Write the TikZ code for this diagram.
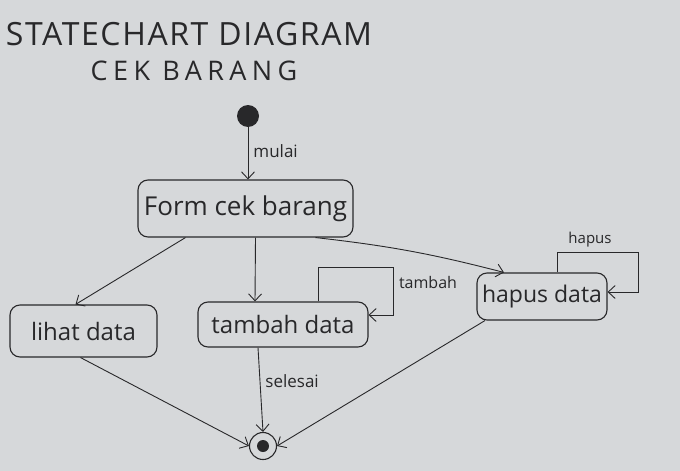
\documentclass[tikz,border=0pt]{standalone}
\usepackage{fontspec}
\setmainfont{Open Sans}
\usetikzlibrary{arrows.meta}
\definecolor{paper}{RGB}{214,216,218}
\definecolor{ink}{RGB}{40,40,42}
\tikzset{
  statebox/.style={draw=ink, line width=1.1pt, rounded corners=10pt, text=ink, inner sep=0pt},
  trans/.style={draw=ink, line width=0.9pt, -{Straight Barb[length=7pt,width=13pt]}},
  lbl/.style={text=ink, inner sep=0pt},
}
\begin{document}
\begin{tikzpicture}[x=1pt,y=-1pt]
\fill[paper] (0,0) rectangle (680,471);
\useasboundingbox (0,0) rectangle (680,471);
% titles
\node[lbl, font=\fontsize{32}{32}\selectfont\addfontfeature{LetterSpace=5}] (title) at (189,34) {STATECHART DIAGRAM};
\node[lbl, font=\fontsize{27}{27}\selectfont\addfontfeature{LetterSpace=20}] (subtitle) at (194,71) {CEK BARANG};
% initial
\node[circle, fill=ink, minimum size=22pt, inner sep=0pt] (initn) at (248,116) {};
% states
\node[statebox, minimum width=215pt, minimum height=57pt, font=\fontsize{26}{26}\selectfont] (form) at (245.5,208.5) {Form cek barang};
\node[statebox, minimum width=147pt, minimum height=52pt, font=\fontsize{24}{24}\selectfont] (lihat) at (83.5,331) {lihat data};
\node[statebox, minimum width=170pt, minimum height=45pt, font=\fontsize{24}{24}\selectfont] (tambah) at (283,324.5) {tambah data};
\node[statebox, minimum width=130pt, minimum height=47pt, font=\fontsize{23}{23}\selectfont] (hapus) at (542,296.5) {hapus data};
% final
\node[circle, draw=ink, fill=paper, line width=1.1pt, minimum size=27pt, inner sep=0pt] (final) at (263,446) {};
\fill[ink] (final.center) circle (6pt);
% transitions
\draw[trans] (initn) -- (form.north -| initn) node[lbl, pos=0.45, right=5pt, font=\fontsize{17}{17}\selectfont] (mulai) {mulai};
\draw[trans] ([xshift=-60pt]form.south) -- ([xshift=-8pt]lihat.north);
\draw[trans] ([xshift=10pt]form.south) -- ([xshift=-28pt]tambah.north);
\draw[trans] ([xshift=70pt]form.south) to[bend left=4] ([xshift=-38pt]hapus.north);
% self loops
\coordinate (tl1) at ([xshift=35pt]tambah.north);
\draw[trans] (tl1) |- (393,267) |- (tambah.east |- 0,315);
\node[lbl, font=\fontsize{16}{16}\selectfont] (tlab) at (428,282) {tambah};
\coordinate (hl1) at ([xshift=15pt]hapus.north);
\draw[trans] (hl1) |- (638,252) |- (hapus.east |- 0,292);
\node[lbl, font=\fontsize{15}{15}\selectfont] (hlab) at (590,240) {hapus};
% to final
\draw[trans] ([xshift=-25pt]tambah.south) -- (final.north) node[lbl, pos=0.4, right=5pt, font=\fontsize{17}{17}\selectfont] (sel) {selesai};
\draw[trans] ([xshift=-3pt]lihat.south) -- (final.west);
\draw[trans] ([xshift=-57pt]hapus.south) -- (final.east);
\end{tikzpicture}
\end{document}
